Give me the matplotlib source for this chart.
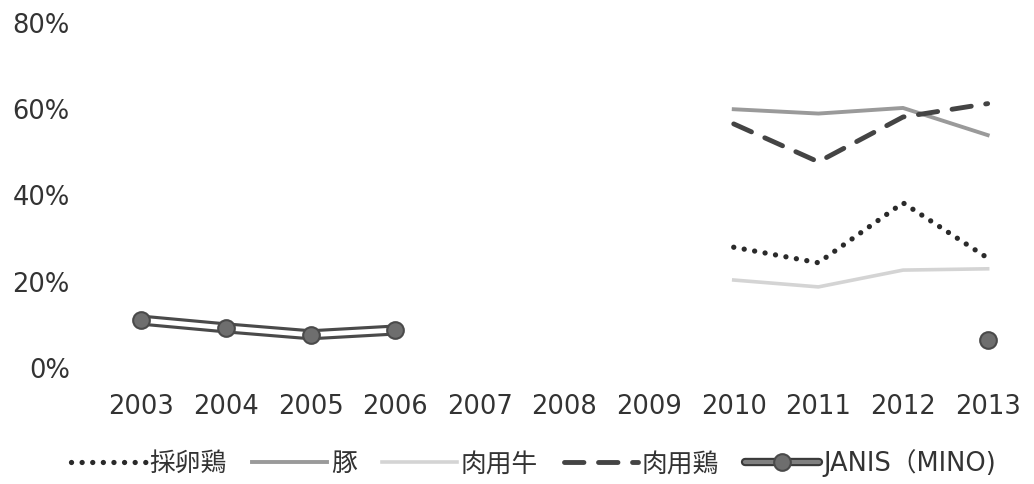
import numpy as np
import matplotlib.pyplot as plt
from matplotlib.lines import Line2D
from matplotlib.legend_handler import HandlerTuple

plt.rcParams['font.family'] = ['DejaVu Sans', 'Noto Sans CJK JP']

years = ['2003', '2004', '2005', '2006', '2007', '2008', '2009', '2010', '2011', '2012', '2013']
nan = np.nan
layer = [nan, nan, nan, nan, nan, nan, nan, 0.28, 0.244, 0.383, 0.255]
pig = [nan, nan, nan, nan, nan, nan, nan, 0.60, 0.59, 0.603, 0.54]
beef = [nan, nan, nan, nan, nan, nan, nan, 0.204, 0.188, 0.227, 0.23]
broiler = [nan, nan, nan, nan, nan, nan, nan, 0.566, 0.478, 0.582, 0.613]
janis = [0.111, 0.093, 0.077, 0.088, nan, nan, nan, nan, nan, nan, 0.065]

labels = ['採卵鶏', '豚', '肉用牛', '肉用鶏', 'JANIS（MINO)']

fig = plt.figure(figsize=(10.34, 4.84), dpi=100)
ax = fig.add_axes([0.0957, 0.2397, 0.9004, 0.7128])
x = np.arange(len(years))

h1, = ax.plot(x, layer, color='#2a2a2a', lw=3.8, linestyle=(0, (0.01, 2.0)),
              dash_capstyle='round', label=labels[0])
h2, = ax.plot(x, pig, color='#9a9a9a', lw=2.8, label=labels[1])
h3, = ax.plot(x, beef, color='#d4d4d4', lw=2.6, label=labels[2])
h4, = ax.plot(x, broiler, color='#444444', lw=3.5, linestyle=(0, (4, 3)),
              dash_capstyle='round', label=labels[3])

# JANIS: double line (dark outline, white core) with round markers
ax.plot(x, janis, color='#4a4a4a', lw=8, solid_capstyle='butt', zorder=4)
ax.plot(x, janis, color='white', lw=3.5, solid_capstyle='butt', zorder=5)
ax.plot(x, janis, linestyle='none', marker='o', ms=12, mfc='#6e6e6e',
        mec='#4a4a4a', mew=1.5, zorder=6)

# legend handle for JANIS: dark-edged grey bar with marker
hj_out = Line2D([], [], color='#3a3a3a', lw=6, solid_capstyle='round')
hj_in = Line2D([], [], color='#808080', lw=3, solid_capstyle='round')
hj_m = Line2D([], [], linestyle='none', marker='o', ms=12, mfc='#6e6e6e',
              mec='#4a4a4a', mew=1.5)

ax.set_xlim(-0.5, len(years) - 0.5)
ax.set_ylim(0, 0.8)
ax.set_xticks(x)
ax.set_xticklabels(years)
ax.set_yticks([0, 0.2, 0.4, 0.6, 0.8])
ax.set_yticklabels(['0%', '20%', '40%', '60%', '80%'])
ax.tick_params(length=0, labelsize=18.5, colors='#333333')
ax.tick_params(axis='x', pad=19)
ax.tick_params(axis='y', pad=21)
for s in ax.spines.values():
    s.set_visible(False)

fig.legend([h1, h2, h3, h4, (hj_out, hj_in, hj_m)], labels,
           handler_map={tuple: HandlerTuple(ndivide=1)},
           loc='center', bbox_to_anchor=(0.516, 0.043), ncol=5, frameon=False,
           fontsize=18.5, handlelength=2.9, handletextpad=0.15, columnspacing=1.0,
           labelcolor='#333333')

fig.savefig('out.png', dpi=100)
